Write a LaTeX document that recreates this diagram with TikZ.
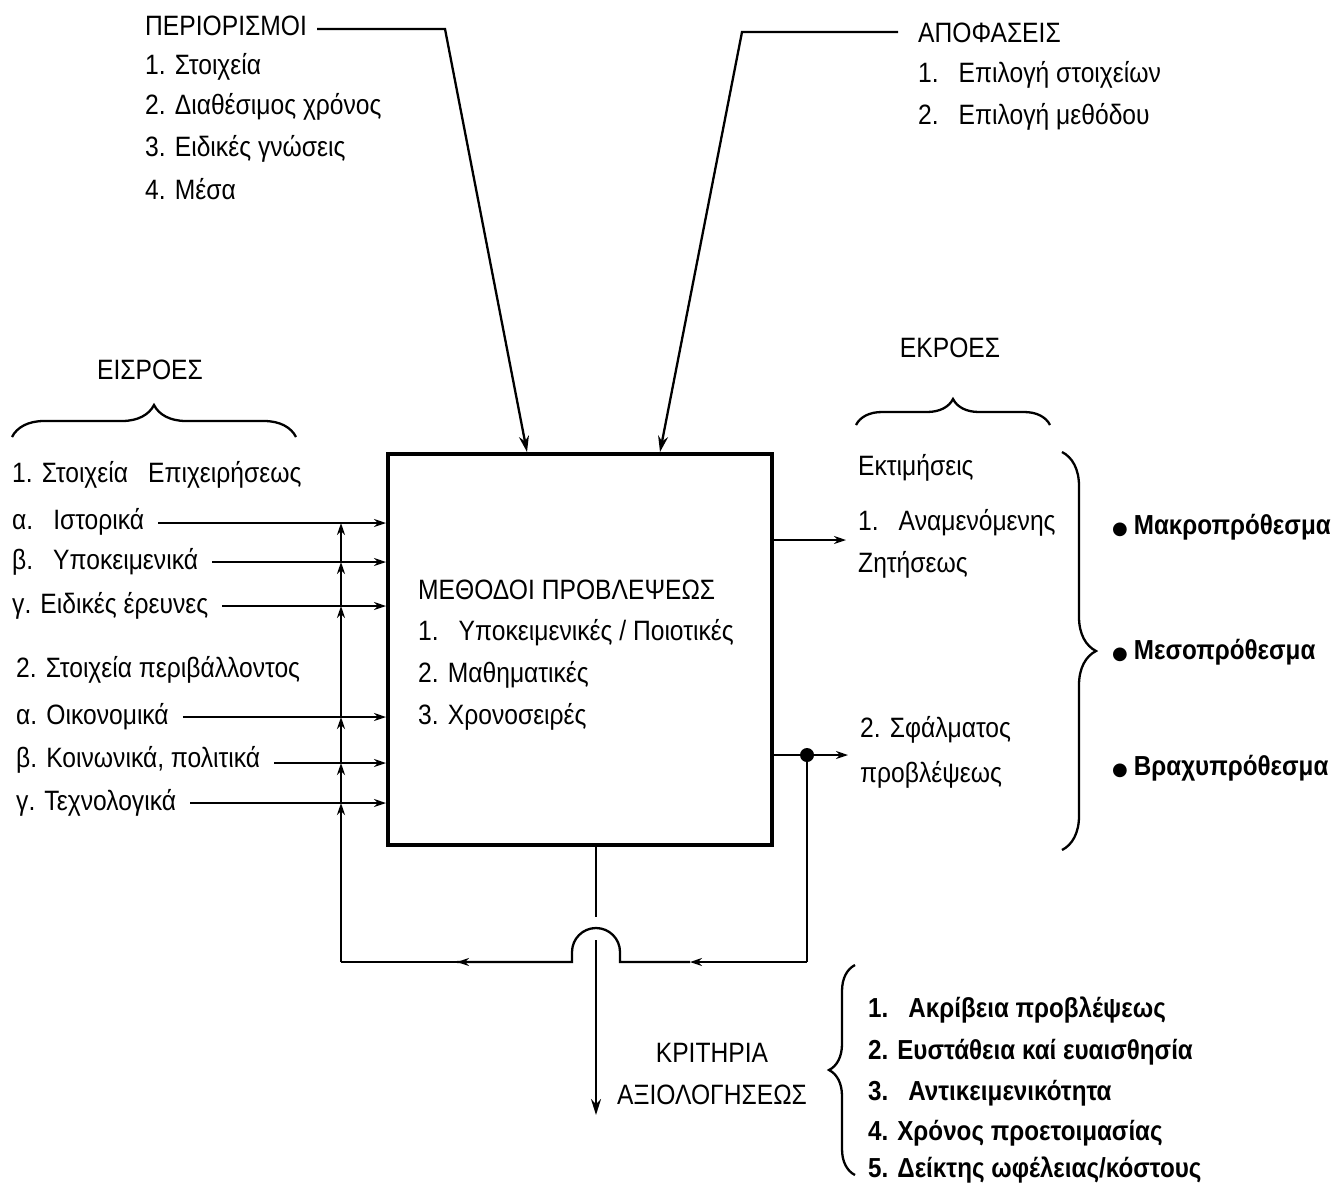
\documentclass[tikz,border=0pt]{standalone}
\usepackage{fontspec}
\setmainfont{Liberation Sans}[FakeStretch=0.88]
\newfontfamily\symfont{DejaVu Sans}
\usetikzlibrary{arrows.meta,decorations.pathreplacing,calc}
\begin{document}
\begin{tikzpicture}[x=1pt,y=-1pt,
  txt/.style={anchor=west,inner sep=0pt,font=\fontsize{28}{33}\selectfont},
  btxt/.style={txt,font=\fontsize{27.5}{33}\selectfont\bfseries},
  ctxt/.style={inner sep=0pt,font=\fontsize{28}{33}\selectfont},
  ln/.style={line width=2.3pt},
  arr/.style={ln,-{Stealth[length=16pt,width=10pt]}},
  sarr/.style={ln,-{Stealth[length=12pt,width=8pt]}},
  brc/.style={line width=2.3pt,decorate,decoration={brace,amplitude=#1}},
]
\useasboundingbox (0,0) rectangle (1340,1192);
\newcommand\bul{{\symfont\fontsize{18}{20}\selectfont ●}\hspace{6pt}}
\newcommand\gp{\hspace{20pt}}

% central box
\node[draw,line width=4pt,minimum width=384pt,minimum height=391pt,inner sep=0pt,anchor=north west] (box) at (386,452) {};
\node[txt] (m0) at (418,590) {ΜΕΘΟΔΟΙ ΠΡΟΒΛΕΨΕΩΣ};
\node[txt] (m1) at (418,633) {1.\gp Υποκειμενικές / Ποιοτικές};
\node[txt] (m2) at (418,675) {2. Μαθηματικές};
\node[txt] (m3) at (418,717) {3. Χρονοσειρές};

% top left
\node[txt] (per) at (145,26) {ΠΕΡΙΟΡΙΣΜΟΙ};
\node[txt] (per1) at (145,67) {1. Στοιχεία};
\node[txt] (per2) at (145,107) {2. Διαθέσιμος χρόνος};
\node[txt] (per3) at (145,149) {3. Ειδικές γνώσεις};
\node[txt] (per4) at (145,189) {4. Μέσα};
\coordinate (perC) at (445,29);
\coordinate (perT) at (527,452);
\draw[arr] ([xshift=10pt]per.east |- perC) -- (perC) -- (perT);

% top right
\node[txt] (apo) at (918,33) {ΑΠΟΦΑΣΕΙΣ};
\node[txt] (apo1) at (918,75) {1.\gp Επιλογή στοιχείων};
\node[txt] (apo2) at (918,117) {2.\gp Επιλογή μεθόδου};
\coordinate (apoC) at (742,32);
\coordinate (apoT) at (660,452);
\draw[arr] ([xshift=-20pt]apo.west |- apoC) -- (apoC) -- (apoT);

% inputs
\node[ctxt] (eis) at (150,370) {ΕΙΣΡΟΕΣ};
\draw[brc=32pt] (12,437) -- (296,437);
\node[txt] (i0) at (12,475) {1. Στοιχεία\gp Επιχειρήσεως};
\node[txt] (i1) at (12,522) {α.\gp Ιστορικά};
\node[txt] (i2) at (12,562) {β.\gp Υποκειμενικά};
\node[txt] (i3) at (12,606) {γ. Ειδικές έρευνες};
\node[txt] (j0) at (16,670) {2. Στοιχεία περιβάλλοντος};
\node[txt] (j1) at (16,717) {α. Οικονομικά};
\node[txt] (j2) at (16,760) {β. Κοινωνικά, πολιτικά};
\node[txt] (j3) at (16,803) {γ. Τεχνολογικά};
\foreach \n/\y in {i1/523,i2/562,i3/606,j1/717,j2/763,j3/803}{
  \draw[sarr] ([xshift=14pt]\n.east |- 0,\y) -- (box.west |- 0,\y);
}

% outputs
\node[ctxt] (ekr) at (950,348) {ΕΚΡΟΕΣ};
\draw[brc=26pt] (856,425) -- (1050,425);
\node[txt] (o0) at (858,468) {Εκτιμήσεις};
\node[txt] (o1) at (858,523) {1.\gp Αναμενόμενης};
\node[txt] (o1b) at (858,565) {Ζητήσεως};
\node[txt] (o2) at (860,730) {2. Σφάλματος};
\node[txt] (o2b) at (860,775) {προβλέψεως};
\draw[sarr] (box.east |- 0,540) -- ([xshift=-12pt]o1.west |- 0,540);
\draw[sarr] (box.east |- 0,755) -- ([xshift=-12pt]o2.west |- 0,755);
\draw[brc=34pt] (1062,452) -- (1062,850);
\node[btxt] (h1) at (1112,527) {\bul Μακροπρόθεσμα};
\node[btxt] (h2) at (1112,652) {\bul Μεσοπρόθεσμα};
\node[btxt] (h3) at (1112,768) {\bul Βραχυπρόθεσμα};

% feedback loop
\coordinate (dot) at (807,755);
\coordinate (fbR) at (807,962);
\coordinate (a1) at (690,962);
\coordinate (bR) at (620,962);
\coordinate (bL) at (572,962);
\coordinate (a2) at (457,962);
\coordinate (fbL) at (341,962);
\fill (dot) circle (7pt);
\draw[ln] (dot) -- (fbR);
\draw[sarr] (fbR) -- (a1);
\draw[ln] (a1) -- (bR) -- ++(0,-10) arc[start angle=0,end angle=-180,radius=24] -- (bL) -- (a2);
\draw[sarr] (bL) -- (a2);
\draw[ln] (a2) -- (fbL);
\draw[sarr] (fbL) -- (fbL |- 0,803);
\foreach \a/\b in {803/763,763/717,717/606,606/562,562/523}{
  \draw[sarr] (341,\a) -- (341,\b);
}

% evaluation
\coordinate (dn1) at (596,917);
\coordinate (dn2) at (596,940);
\coordinate (dn3) at (596,1115);
\draw[ln] (box.south -| dn1) -- (dn1);
\draw[arr] (dn2) -- (dn3);
\node[ctxt] (kr1) at (712,1053) {ΚΡΙΤΗΡΙΑ};
\node[ctxt] (kr2) at (712,1095) {ΑΞΙΟΛΟΓΗΣΕΩΣ};
\draw[brc=26pt] (855,1175) -- (855,965);
\node[btxt] (c1) at (868,1010) {1.\gp Ακρίβεια προβλέψεως};
\node[btxt] (c2) at (868,1052) {2. Ευστάθεια καί ευαισθησία};
\node[btxt] (c3) at (868,1093) {3.\gp Αντικειμενικότητα};
\node[btxt] (c4) at (868,1133) {4. Χρόνος προετοιμασίας};
\node[btxt] (c5) at (868,1170) {5. Δείκτης ωφέλειας/κόστους};
\end{tikzpicture}
\end{document}
